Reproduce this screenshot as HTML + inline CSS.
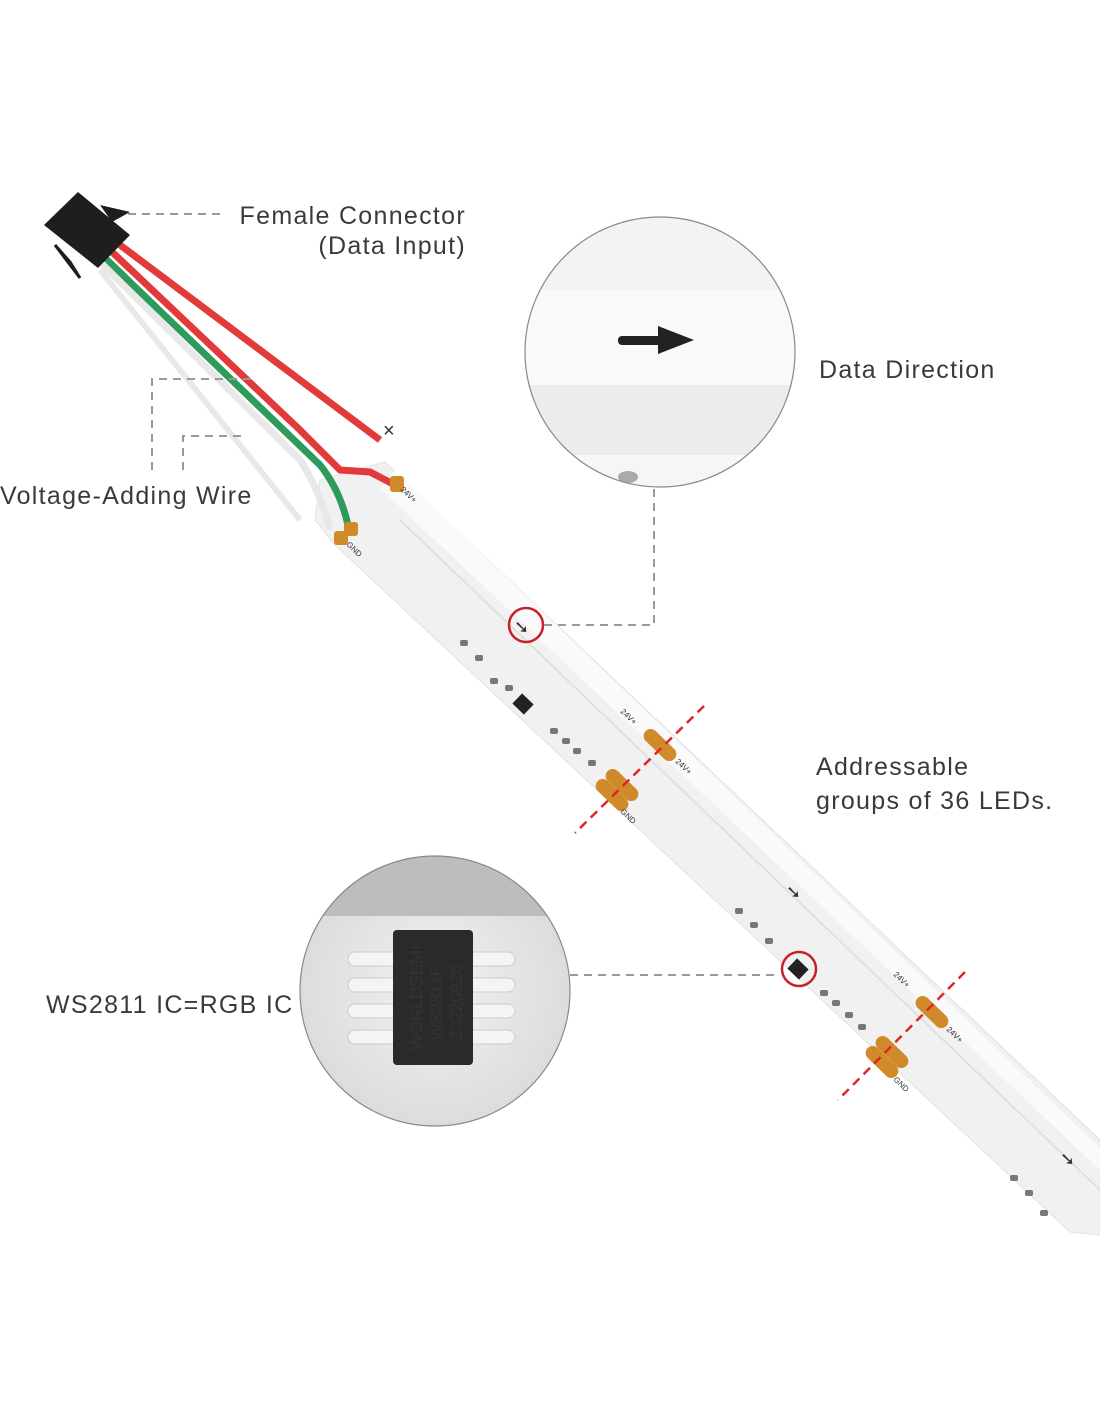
<!DOCTYPE html>
<html><head><style>
body{margin:0;background:#fff}
svg{display:block}
text{font-family:"Liberation Sans",sans-serif;fill:#333}
.lb{letter-spacing:1.3px;fill:#3a3a3a}
</style></head><body>
<svg width="1100" height="1422" viewBox="0 0 1100 1422" xmlns="http://www.w3.org/2000/svg">
<defs>
<radialGradient id="ic" cx="0.5" cy="0.5" r="0.5"><stop offset="0" stop-color="#f2f2f2"/><stop offset="1" stop-color="#dcdcdc"/></radialGradient>
<clipPath id="c1"><circle cx="660" cy="352" r="135"/></clipPath>
<clipPath id="c2"><circle cx="435" cy="991" r="135"/></clipPath>
</defs>
<polygon points="320,480 385,462 1100,1140 1100,1235 1070,1232 335,545 315,520" fill="#f1f1f1" stroke="#e2e2e2"/>
<polygon points="395,470 1100,1148 1100,1170 380,488" fill="#fafafa"/>
<line x1="400" y1="520" x2="1100" y2="1190" stroke="#e0e0e0" stroke-width="2"/>
<path d="M110,250 L300,430 Q320,450 340,470 L370,472 L395,485" stroke="#e23a3a" stroke-width="7" fill="none"/>
<path d="M120,245 L380,440" stroke="#e23a3a" stroke-width="7"/>
<path d="M105,258 L320,465 Q340,490 348,525" stroke="#2e9a5c" stroke-width="7" fill="none"/>
<path d="M100,262 L300,460 Q320,490 330,530" stroke="#e8e8e8" stroke-width="7" fill="none"/>
<path d="M100,270 L300,520" stroke="#e8e8e8" stroke-width="6"/>
<text x="383" y="437" font-size="20" fill="#555">×</text>
<polygon points="44,225 78,192 130,235 98,268" fill="#1e1e1e"/>
<polygon points="100,205 130,212 112,222" fill="#1e1e1e"/>
<polygon points="55,245 80,278 70,262" fill="#1e1e1e" stroke="#1e1e1e" stroke-width="3"/>
<rect x="390" y="476" width="14" height="16" rx="3" fill="#d08a2a"/>
<rect x="344" y="522" width="14" height="14" rx="3" fill="#d08a2a"/>
<rect x="334" y="531" width="14" height="14" rx="3" fill="#d08a2a"/>
<g fill="#d08a2a">
<rect x="640" y="738" width="40" height="14" rx="7" transform="rotate(44 660 745)"/>
<rect x="592" y="788" width="40" height="14" rx="7" transform="rotate(44 612 795)"/>
<rect x="602" y="778" width="40" height="14" rx="7" transform="rotate(44 622 785)"/>
<rect x="912" y="1005" width="40" height="14" rx="7" transform="rotate(44 932 1012)"/>
<rect x="862" y="1055" width="40" height="14" rx="7" transform="rotate(44 882 1062)"/>
<rect x="872" y="1045" width="40" height="14" rx="7" transform="rotate(44 892 1052)"/>
</g>
<g stroke="#e02525" stroke-width="2.5" stroke-dasharray="9,6">
<line x1="704" y1="706" x2="575" y2="833"/>
<line x1="965" y1="972" x2="838" y2="1100"/>
</g>
<g fill="#777">
<rect x="460" y="640" width="8" height="6" rx="2"/><rect x="475" y="655" width="8" height="6" rx="2"/><rect x="490" y="678" width="8" height="6" rx="2"/><rect x="505" y="685" width="8" height="6" rx="2"/>
<rect x="515" y="697" width="16" height="14" fill="#222" transform="rotate(44 523 704)"/>
<rect x="550" y="728" width="8" height="6" rx="2"/><rect x="562" y="738" width="8" height="6" rx="2"/><rect x="573" y="748" width="8" height="6" rx="2"/><rect x="588" y="760" width="8" height="6" rx="2"/>
<rect x="735" y="908" width="8" height="6" rx="2"/><rect x="750" y="922" width="8" height="6" rx="2"/><rect x="765" y="938" width="8" height="6" rx="2"/>
<rect x="790" y="962" width="16" height="14" fill="#222" transform="rotate(44 798 969)"/>
<rect x="820" y="990" width="8" height="6" rx="2"/><rect x="832" y="1000" width="8" height="6" rx="2"/><rect x="845" y="1012" width="8" height="6" rx="2"/><rect x="858" y="1024" width="8" height="6" rx="2"/>
<rect x="1010" y="1175" width="8" height="6" rx="2"/><rect x="1025" y="1190" width="8" height="6" rx="2"/><rect x="1040" y="1210" width="8" height="6" rx="2"/>
</g>
<g font-size="8" fill="#444">
<text transform="translate(400,490) rotate(44)">24V+</text>
<text transform="translate(620,712) rotate(44)">24V+</text>
<text transform="translate(675,762) rotate(44)">24V+</text>
<text transform="translate(893,975) rotate(44)">24V+</text>
<text transform="translate(946,1030) rotate(44)">24V+</text>
<text transform="translate(346,545) rotate(44)">GND</text>
<text transform="translate(620,812) rotate(44)">GND</text>
<text transform="translate(893,1080) rotate(44)">GND</text>
</g>
<text x="786" y="898" font-size="18" fill="#111">➘</text>
<text x="1060" y="1165" font-size="18" fill="#111">➘</text>
<circle cx="526" cy="625" r="17" fill="none" stroke="#c8202a" stroke-width="2.5"/>
<text x="514" y="633" font-size="18" fill="#111">➘</text>
<circle cx="799" cy="969" r="17" fill="none" stroke="#c8202a" stroke-width="2.5"/>
<g stroke="#999" stroke-width="2" stroke-dasharray="8,6" fill="none">
<line x1="128" y1="214" x2="222" y2="214"/>
<polyline points="544,625 654,625 654,487"/>
<polyline points="152,470 152,379 256,379"/>
<polyline points="183,470 183,436 246,436"/>
<line x1="570" y1="975" x2="780" y2="975"/>
</g>
<circle cx="660" cy="352" r="135" fill="#f3f3f3"/>
<g clip-path="url(#c1)">
<rect x="520" y="290" width="280" height="100" fill="#f9f9f9"/>
<rect x="520" y="385" width="280" height="70" fill="#ececec"/>
<rect x="520" y="455" width="280" height="40" fill="#f6f6f6"/>
<ellipse cx="628" cy="477" rx="10" ry="6" fill="#aaa"/>
<rect x="618" y="336" width="45" height="9" rx="4" fill="#222"/>
<polygon points="658,326 694,340 658,354" fill="#222"/>
</g>
<circle cx="660" cy="352" r="135" fill="none" stroke="#888" stroke-width="1.2"/>
<circle cx="435" cy="991" r="135" fill="url(#ic)"/>
<g clip-path="url(#c2)">
<rect x="300" y="856" width="270" height="60" fill="#bdbdbd"/>
<g fill="#f4f4f4" stroke="#ccc">
<rect x="348" y="952" width="50" height="14" rx="7"/><rect x="348" y="978" width="50" height="14" rx="7"/><rect x="348" y="1004" width="50" height="14" rx="7"/><rect x="348" y="1030" width="50" height="14" rx="7"/>
<rect x="465" y="952" width="50" height="14" rx="7"/><rect x="465" y="978" width="50" height="14" rx="7"/><rect x="465" y="1004" width="50" height="14" rx="7"/><rect x="465" y="1030" width="50" height="14" rx="7"/>
</g>
<rect x="393" y="930" width="80" height="135" rx="4" fill="#2a2a2a"/>
<text transform="translate(422,1050) rotate(-90)" font-size="17" fill="#777">WORLDSEMI</text>
<text transform="translate(442,1040) rotate(-90)" font-size="17" fill="#777">WS2811F</text>
<text transform="translate(462,1040) rotate(-90)" font-size="17" fill="#777">20220920</text>
</g>
<circle cx="435" cy="991" r="135" fill="none" stroke="#888" stroke-width="1.2"/>
<text class="lb" x="466" y="224" font-size="25" text-anchor="end">Female Connector</text>
<text class="lb" x="466" y="254" font-size="25" text-anchor="end">(Data Input)</text>
<text class="lb" x="819" y="378" font-size="25">Data Direction</text>
<text class="lb" x="0" y="504" font-size="25">Voltage-Adding Wire</text>
<text class="lb" x="816" y="775" font-size="25">Addressable</text>
<text class="lb" x="816" y="809" font-size="25">groups of 36 LEDs.</text>
<text class="lb" x="46" y="1013" font-size="25">WS2811 IC=RGB IC</text>
</svg>
</body></html>
